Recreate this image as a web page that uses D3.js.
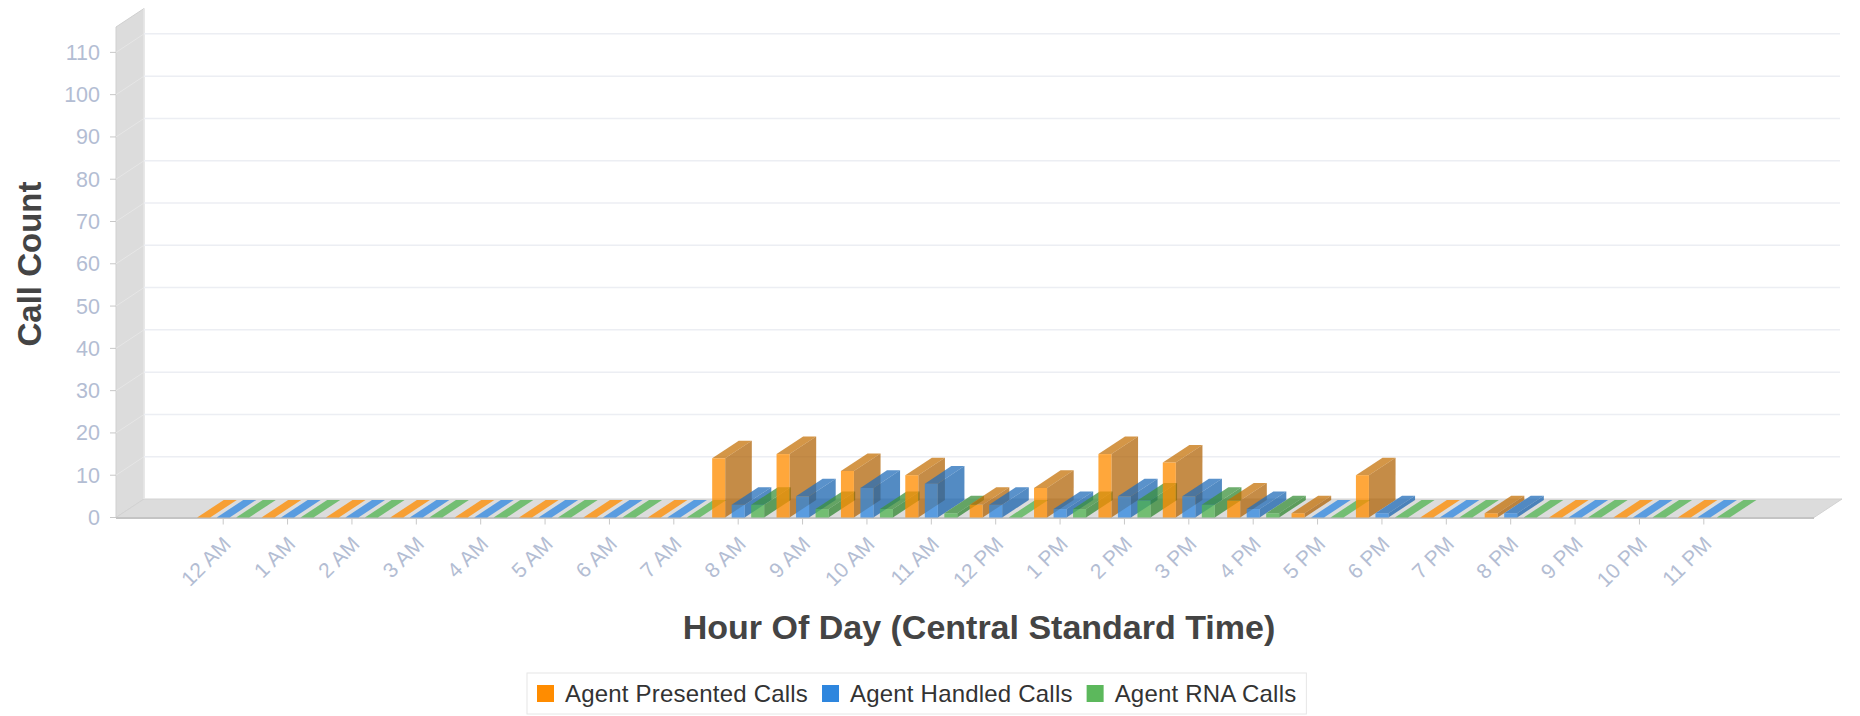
<!DOCTYPE html>
<html>
<head>
<meta charset="utf-8">
<script src="https://cdn.jsdelivr.net/npm/d3@7"></script>
<style>
  body { margin: 0; background: #fff; }
  text { font-family: "Liberation Sans", Arial, sans-serif; }
</style>
</head>
<body>
<svg id="chart"></svg>
<script>
var hours = ['12 AM','1 AM','2 AM','3 AM','4 AM','5 AM','6 AM','7 AM','8 AM','9 AM','10 AM','11 AM',
             '12 PM','1 PM','2 PM','3 PM','4 PM','5 PM','6 PM','7 PM','8 PM','9 PM','10 PM','11 PM'];
var presented = [0,0,0,0,0,0,0,0,14,15,11,10,3,7,15,13,4,1,10,0,1,0,0,0];
var handled   = [0,0,0,0,0,0,0,0,3,5,7,8,3,2,5,5,2,0,1,0,1,0,0,0];
var rna       = [0,0,0,0,0,0,0,0,3,2,2,1,0,2,4,3,1,0,0,0,0,0,0,0];
var seriesNames = ['Agent Presented Calls','Agent Handled Calls','Agent RNA Calls'];
var yTicks = [0,10,20,30,40,50,60,70,80,90,100,110];

var series = [
  {name: seriesNames[0], values: presented, swatch: '#ff8c00', front: 'rgba(255,140,0,0.77)', side: 'rgba(175,95,0,0.72)', top: 'rgba(195,110,0,0.72)'},
  {name: seriesNames[1], values: handled,   swatch: '#2e86de', front: 'rgba(45,135,225,0.75)', side: 'rgba(25,100,175,0.75)', top: 'rgba(35,110,185,0.75)'},
  {name: seriesNames[2], values: rna,       swatch: '#5cb85c', front: 'rgba(80,180,80,0.75)', side: 'rgba(50,135,50,0.75)', top: 'rgba(60,145,60,0.75)'}
];

var W = 1860, H = 716;
var svg = d3.select('#chart').attr('width', W).attr('height', H);

// front plane of the 3d box, depth drawn as an oblique offset
var left = 116, right = 1814;
var DX = 28, DY = -18.5;
var barDepth = 0.95;

var x0 = d3.scaleBand().domain(hours).range([191, 1736]);
var x1 = d3.scaleBand().domain(seriesNames).range([0, x0.bandwidth()])
    .paddingInner(0.333).paddingOuter(0.316);
var y = d3.scaleLinear().domain([0, 116]).range([517.5, 27]);

function pts(a) { return a.map(function(p){ return p[0] + ',' + p[1]; }).join(' '); }

// left wall and floor
svg.append('polygon')
    .attr('points', pts([[left, y(0)], [left + DX, y(0) + DY], [left + DX, y.range()[1] + DY], [left, y.range()[1]]]))
    .attr('fill', '#dcdcdc').attr('stroke', '#d0d0d0').attr('stroke-width', 1);
svg.append('polygon')
    .attr('points', pts([[left, y(0)], [right, y(0)], [right + DX, y(0) + DY], [left + DX, y(0) + DY]]))
    .attr('fill', '#dcdcdc').attr('stroke', '#d2d2d2').attr('stroke-width', 1);
svg.append('line')
    .attr('x1', left).attr('x2', right).attr('y1', y(0) + 0.5).attr('y2', y(0) + 0.5)
    .attr('stroke', '#c4c4c4').attr('stroke-width', 2);
svg.append('line')
    .attr('x1', left + DX).attr('x2', left + DX).attr('y1', y(0) + DY).attr('y2', y.range()[1] + DY)
    .attr('stroke', '#e8e8e8').attr('stroke-width', 1.5);

// grid lines: back wall and left wall
var grid = svg.append('g');
yTicks.forEach(function(t) {
  if (t === 0) return;
  grid.append('line')
      .attr('x1', left + DX).attr('x2', right + DX - 2)
      .attr('y1', y(t) + DY).attr('y2', y(t) + DY)
      .attr('stroke', '#eceef3').attr('stroke-width', 1.5);
  grid.append('line')
      .attr('x1', left).attr('x2', left + DX)
      .attr('y1', y(t)).attr('y2', y(t) + DY)
      .attr('stroke', '#e6e6e6').attr('stroke-width', 1);
});

// y axis ticks and labels
var yAxis = svg.append('g');
yTicks.forEach(function(t) {
  yAxis.append('line')
      .attr('x1', left - 6).attr('x2', left).attr('y1', y(t)).attr('y2', y(t))
      .attr('stroke', '#c8c8c8').attr('stroke-width', 1);
  yAxis.append('text')
      .attr('x', 100).attr('y', y(t)).attr('dy', '0.35em')
      .attr('text-anchor', 'end')
      .attr('font-size', 21.5).attr('fill', '#b3bdd3')
      .text(t);
});

// columns
var bars = svg.append('g');
hours.forEach(function(h, i) {
  series.forEach(function(s) {
    var v = s.values[i];
    var xa = x0(h) + x1(s.name), xb = xa + x1.bandwidth();
    var dx = DX * barDepth, dy = DY * barDepth;
    var y0 = y(0), yv = y(v);
    if (v === 0) {
      bars.append('polygon')
          .attr('points', pts([[xa, y0], [xb, y0], [xb + dx, y0 + dy], [xa + dx, y0 + dy]]))
          .attr('fill', s.front);
      return;
    }
    bars.append('polygon')
        .attr('points', pts([[xb, y0], [xb, yv], [xb + dx, yv + dy], [xb + dx, y0 + dy]]))
        .attr('fill', s.side);
    bars.append('polygon')
        .attr('points', pts([[xa, yv], [xb, yv], [xb + dx, yv + dy], [xa + dx, yv + dy]]))
        .attr('fill', s.top);
    bars.append('rect')
        .attr('x', xa).attr('y', yv).attr('width', xb - xa).attr('height', y0 - yv)
        .attr('fill', s.front);
  });
});

// x axis ticks and labels
var xAxis = svg.append('g');
hours.forEach(function(h) {
  var cx = x0(h) + x0.bandwidth() / 2;
  xAxis.append('line')
      .attr('x1', cx).attr('x2', cx).attr('y1', y(0) + 1).attr('y2', y(0) + 7)
      .attr('stroke', '#c8c8c8').attr('stroke-width', 1);
  xAxis.append('text')
      .attr('transform', 'translate(' + (cx + 9) + ',' + (y(0) + 28) + ') rotate(-45)')
      .attr('text-anchor', 'end')
      .attr('font-size', 21).attr('fill', '#b3bdd3')
      .text(h);
});

// axis titles
svg.append('text')
    .attr('transform', 'translate(41,' + 264 + ') rotate(-90)')
    .attr('text-anchor', 'middle')
    .attr('font-size', 33).attr('font-weight', 'bold').attr('fill', '#444')
    .text('Call Count');
svg.append('text')
    .attr('x', 979).attr('y', 639)
    .attr('text-anchor', 'middle')
    .attr('font-size', 34).attr('font-weight', 'bold').attr('fill', '#444')
    .text('Hour Of Day (Central Standard Time)');

// legend
var legend = svg.append('g');
var box = legend.append('rect')
    .attr('fill', '#fff').attr('stroke', '#e6e6e6').attr('stroke-width', 1);
var lx = 537;
series.forEach(function(s) {
  legend.append('rect')
      .attr('x', lx).attr('y', 685).attr('width', 17).attr('height', 17)
      .attr('fill', s.swatch);
  var t = legend.append('text')
      .attr('x', lx + 28).attr('y', 702)
      .attr('font-size', 24).attr('letter-spacing', 0.2).attr('fill', '#333')
      .text(s.name);
  lx += 28 + t.node().getComputedTextLength() + 14;
});
box.attr('x', 527).attr('y', 673).attr('width', lx - 527 - 4).attr('height', 41);
</script>
</body>
</html>
